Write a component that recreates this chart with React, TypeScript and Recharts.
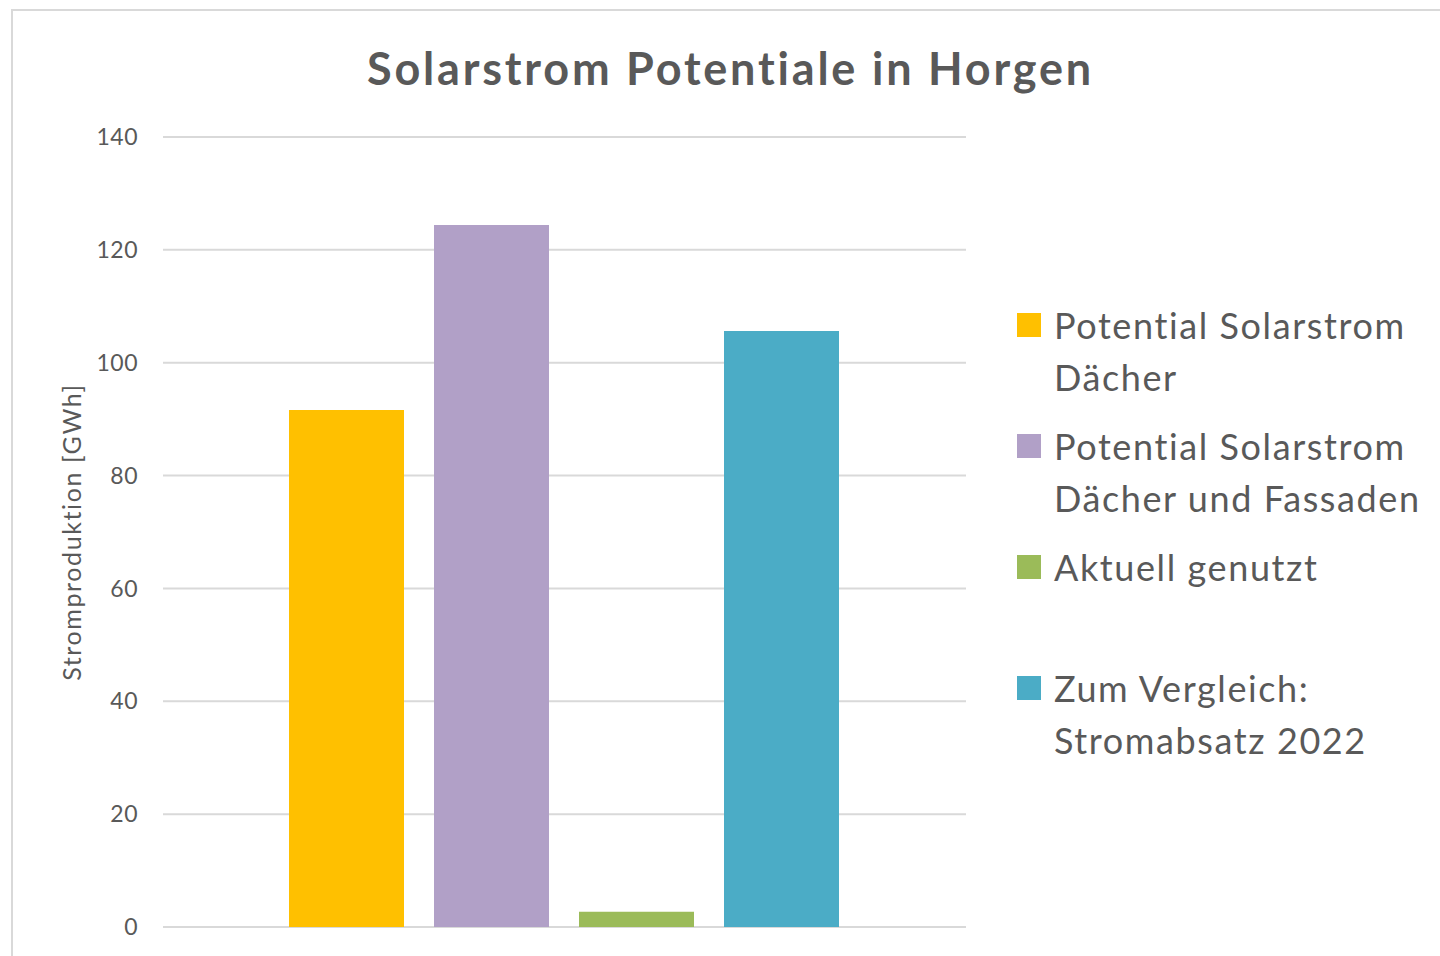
import React from "react";
import { BarChart, Bar, XAxis, YAxis, CartesianGrid, Legend } from "recharts";

const title = "Solarstrom Potentiale in Horgen";
const yAxisLabel = "Stromproduktion [GWh]";
const category = ["Horgen"];
const seriesKeys = ["daecher", "daecherFassaden", "aktuell", "vergleich"];
const seriesLabels = [
  ["Potential Solarstrom", "Dächer"],
  ["Potential Solarstrom", "Dächer und Fassaden"],
  ["Aktuell genutzt"],
  ["Zum Vergleich:", "Stromabsatz 2022"],
];
const seriesValues = [91.6, 124.4, 2.7, 105.6];
const seriesColors = ["#FFC000", "#B1A0C7", "#9BBB59", "#4BACC6"];
const yTicks = [0, 20, 40, 60, 80, 100, 120, 140];

const data = category.map((c) => {
  const row: Record<string, any> = { name: c };
  seriesKeys.forEach((k, i) => (row[k] = seriesValues[i]));
  return row;
});

const FONT = "Lato, 'Open Sans', sans-serif";
const TEXT = "#595959";
const NOLIG: React.CSSProperties = { fontVariantLigatures: "none", fontFeatureSettings: "'liga' 0, 'clig' 0" };

const renderLegend = (props: any) => {
  const payload = props.payload || [];
  return (
    <div style={{ fontFamily: FONT, color: TEXT, ...NOLIG }}>
      {seriesKeys.map((key, idx) => {
        const entry = payload.find((p: any) => p.dataKey === key);
        if (!entry) return null;
        const lines = seriesLabels[idx];
        return (
          <div key={key} style={{ position: "relative", height: 121 }}>
            <div
              style={{
                position: "absolute",
                left: 0,
                top: 14,
                width: 24,
                height: 24,
                background: entry.color,
              }}
            />
            <div style={{ position: "absolute", left: 37, top: 0 }}>
              {lines.map((l: string, j: number) => (
                <div
                  key={j}
                  style={{ height: 52, lineHeight: "52px", fontSize: 36, letterSpacing: 1.6, whiteSpace: "nowrap" }}
                >
                  {l}
                </div>
              ))}
            </div>
          </div>
        );
      })}
    </div>
  );
};

const YLabel = (props: any) => {
  const vb = props.viewBox || {};
  const cx = 71;
  const cy = vb.y + vb.height / 2;
  return (
    <text
      x={cx}
      y={cy}
      transform={`rotate(-90, ${cx}, ${cy})`}
      textAnchor="middle"
      dominantBaseline="central"
      fill={TEXT}
      fontSize={25}
      letterSpacing={1.6}
      fontFamily={FONT}
      style={NOLIG}
    >
      {yAxisLabel}
    </text>
  );
};

export default function App() {
  return (
    <div
      style={{
        position: "absolute",
        left: 0,
        top: 0,
        width: 1440,
        height: 956,
        overflow: "hidden",
        background: "#fff",
      }}
    >
      <div
        style={{
          position: "absolute",
          left: 11,
          top: 9,
          width: 1440,
          height: 960,
          borderLeft: "2px solid #D9D9D9",
          borderTop: "2px solid #D9D9D9",
        }}
      />
      <div
        style={{
          position: "absolute",
          left: 0,
          top: 38,
          width: 1461,
          textAlign: "center",
          fontFamily: FONT,
          fontWeight: 700,
          fontSize: 45,
          letterSpacing: 2.8,
          color: TEXT,
          lineHeight: "60px",
          ...NOLIG,
        }}
      >
        {title}
      </div>
      <div style={{ position: "absolute", left: 0, top: 0 }}>
        <BarChart
          width={1440}
          height={956}
          data={data}
          margin={{ top: 137, right: 51, bottom: 29, left: 83 }}
          barCategoryGap={126}
          barGap={30}
        >
          <CartesianGrid vertical={false} stroke="#D9D9D9" strokeWidth={2} />
          <XAxis dataKey="name" hide />
          <YAxis
            width={80}
            domain={[0, 140]}
            ticks={yTicks}
            axisLine={false}
            tickLine={false}
            tickSize={0}
            tickMargin={25}
            tick={{ fill: TEXT, fontSize: 23, fontFamily: FONT, letterSpacing: 0.5 }}
            label={<YLabel />}
          />
          <Legend
            layout="vertical"
            verticalAlign="top"
            align="right"
            content={renderLegend}
            wrapperStyle={{ left: 1017, top: 299, width: 423, right: "auto" }}
          />
          {seriesKeys.map((k, i) => (
            <Bar
              key={k}
              dataKey={k}
              name={seriesLabels[i].join(" ")}
              fill={seriesColors[i]}
              isAnimationActive={false}
            />
          ))}
        </BarChart>
      </div>
    </div>
  );
}
